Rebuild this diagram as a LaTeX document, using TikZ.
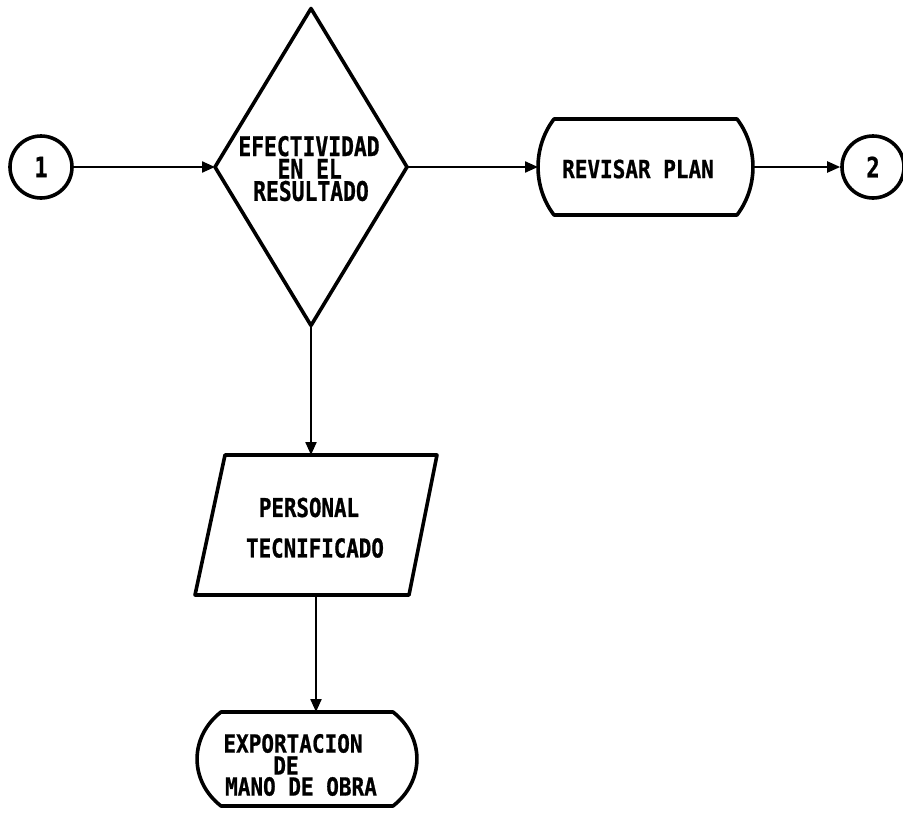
\documentclass[tikz,border=0pt]{standalone}
\usepackage{fontspec}
\newfontfamily\plotfont{DejaVu Sans Mono}[FakeStretch=0.79, BoldFeatures={FakeBold=0.8}]
\newfontfamily\plotfontmid{DejaVu Sans Mono}[FakeStretch=0.80, BoldFeatures={FakeBold=0.8}]
\newfontfamily\plotfontwide{DejaVu Sans Mono}[FakeStretch=0.84, BoldFeatures={FakeBold=0.8}]
\usetikzlibrary{arrows.meta,calc}

% Terminal outline: straight top and bottom, bulging curved sides.
% #1 = anchor box node, #2 = corner inset, #3 = vertical reach of the control points
\newcommand{\termoutline}[3]{%
  \draw[outline] ($(#1.north west)+(#2,0)$) -- ($(#1.north east)+(-#2,0)$)
    .. controls ($(#1.north east)+(-#2+1.33*#2,#3)$) and ($(#1.south east)+(-#2+1.33*#2,-#3)$) .. ($(#1.south east)+(-#2,0)$)
    -- ($(#1.south west)+(#2,0)$)
    .. controls ($(#1.south west)+(#2-1.33*#2,-#3)$) and ($(#1.north west)+(#2-1.33*#2,#3)$) .. cycle;}

\begin{document}
\begin{tikzpicture}[x=1pt,y=-1pt,
  outline/.style={line width=3.6pt, line join=round},
  flow/.style={line width=2.2pt, -{Triangle[length=13pt,width=11pt]}},
  txt/.style={font=\plotfont\bfseries\fontsize{27}{22}\selectfont, inner sep=0pt},
  midtxt/.style={font=\plotfontmid\bfseries\fontsize{26}{22}\selectfont, inner sep=0pt},
  widetxt/.style={font=\plotfontwide\bfseries\fontsize{25}{20}\selectfont, inner sep=0pt},
  anchorbox/.style={rectangle, inner sep=0pt, outer sep=0pt},
  connector/.style={circle, draw, outline, minimum size=62pt, inner sep=0pt,
    font=\plotfont\bfseries\fontsize{28}{22}\selectfont}
]
\useasboundingbox (0,0) rectangle (903,814);

% connectors (page references)
\node[connector] (c1) at (41,167) {1};
\node[connector] (c2) at (873,167) {2};

% decision
\node[anchorbox, minimum width=192pt, minimum height=317pt] (dec) at (311,167) {};
\draw[outline] (dec.north) -- (dec.east) -- (dec.south) -- (dec.west) -- cycle;
\node[txt] (dectexta) at (309,146.2) {EFECTIVIDAD};
\node[txt] (dectextb) at (309.7,168.8) {EN EL};
\node[txt] (dectextc) at (311,191) {RESULTADO};

% terminal: revisar plan
\node[anchorbox, minimum width=215pt, minimum height=96pt] (rev) at (645.5,167) {};
\termoutline{rev}{16}{28}
\node[widetxt] (revtext) at (638,169) {REVISAR PLAN};

% input / output: personal tecnificado
\node[anchorbox, minimum width=242pt, minimum height=140pt] (per) at (316,525) {};
\draw[outline] ($(per.north west)+(30,0)$) -- (per.north east)
  -- ($(per.south east)+(-28,0)$) -- (per.south west) -- cycle;
\node[midtxt] (pertexta) at (309,507.5) {PERSONAL};
\node[midtxt] (pertextb) at (315,548) {TECNIFICADO};

% terminal: exportacion de mano de obra
\node[anchorbox, minimum width=220pt, minimum height=94pt] (exp) at (307,759) {};
\termoutline{exp}{24}{25}
\node[widetxt] (exptexta) at (293,743.5) {EXPORTACION};
\node[widetxt] (exptextb) at (286,765.5) {DE};
\node[widetxt] (exptextc) at (301,786.5) {MANO DE OBRA};

% flow lines
\draw[flow] (c1) -- (dec.west);
\draw[flow] (dec.east) -- (rev.west);
\draw[flow] (rev.east) -- (c2);
\draw[flow] (dec.south) -- (dec.south |- per.north);
\draw[flow] (per.south) -- (per.south |- exp.north);
\end{tikzpicture}
\end{document}
